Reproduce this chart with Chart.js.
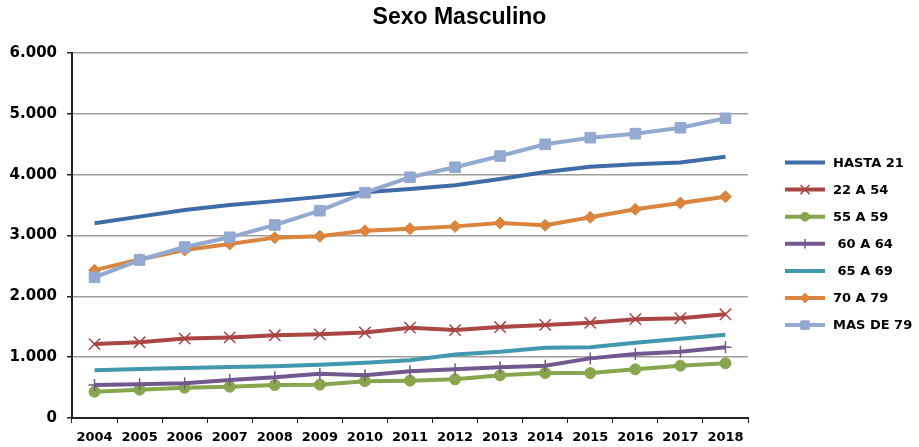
<!DOCTYPE html>
<html><head><meta charset="utf-8">
<script src="https://cdn.jsdelivr.net/npm/chart.js@4/dist/chart.umd.min.js"></script>
<style>html,body{margin:0;padding:0;background:#fff;}canvas{display:block;}</style>
</head><body>
<canvas id="c" width="919" height="447"></canvas>
<script>
const years = ['2004','2005','2006','2007','2008','2009','2010','2011','2012','2013','2014','2015','2016','2017','2018'];
const yTickLabels = ['0','1.000','2.000','3.000','4.000','5.000','6.000'];
const seriesNames = ['HASTA 21','22 A 54','55 A 59',' 60 A 64',' 65 A 69','70 A 79','MAS DE 79'];
const hasta21  = [3200,3310,3420,3500,3565,3635,3710,3765,3825,3930,4045,4130,4170,4200,4295];
const a22a54   = [1215,1245,1305,1325,1360,1375,1405,1485,1445,1495,1530,1565,1625,1640,1705];
const a55a59   = [432,465,498,515,542,548,605,614,636,702,738,738,800,860,899];
const a60a64   = [542,555,570,625,668,728,703,768,800,833,860,980,1052,1090,1162];
const a65a69   = [784,806,822,838,850,876,909,948,1042,1090,1156,1162,1238,1304,1370];
const a70a79   = [2430,2605,2762,2861,2965,2988,3079,3112,3150,3205,3167,3299,3431,3535,3638];
const mas79    = [2313,2597,2810,2970,3173,3408,3704,3957,4121,4307,4499,4608,4674,4772,4927];

const colors = ['#3D6CA6','#AA4643','#89A54E','#71588F','#4198AF','#DB843D','#93A9CF'];
const styles = [
  {ps:'circle', r:0},
  {ps:'crossRot', r:8, bw:1.5},
  {ps:'circle', r:5.5},
  {ps:'cross', r:6, bw:1.5},
  {ps:'circle', r:0},
  {ps:'rectRot', r:6},
  {ps:'rect', r:7.5}
];
const values = [hasta21,a22a54,a55a59,a60a64,a65a69,a70a79,mas79];

const datasets = values.map((v,i)=>({
  label: seriesNames[i],
  data: v,
  borderColor: colors[i],
  backgroundColor: colors[i],
  borderWidth: 4,
  pointStyle: styles[i].ps,
  pointRadius: styles[i].r,
  pointBorderWidth: styles[i].bw || 1,
  pointBorderColor: colors[i],
  pointBackgroundColor: colors[i],
  tension: 0,
  order: 6 - i
}));

const legendPlugin = {
  id: 'customLegend',
  afterDraw(chart) {
    const ctx = chart.ctx;
    const x0 = 785, x1 = 825, tx = 833, y0 = 162.5, dy = 27.1;
    ctx.save();
    chart.data.datasets.forEach((ds, i) => {
      const y = y0 + i * dy;
      ctx.strokeStyle = ds.borderColor;
      ctx.lineWidth = 4;
      ctx.lineCap = 'butt';
      ctx.beginPath(); ctx.moveTo(x0, y); ctx.lineTo(x1, y); ctx.stroke();
      if (ds.pointRadius > 0) {
        ctx.lineWidth = ds.pointBorderWidth;
        ctx.fillStyle = ds.backgroundColor;
        ctx.strokeStyle = ds.borderColor;
        Chart.helpers.drawPoint(ctx, {pointStyle: ds.pointStyle, rotation: 0, radius: ds.pointRadius * 0.8, borderWidth: ds.pointBorderWidth}, (x0 + x1) / 2, y);
      }
      ctx.fillStyle = '#000';
      ctx.font = 'bold 13px "DejaVu Sans"';
      ctx.textBaseline = 'middle';
      ctx.textAlign = 'left';
      ctx.fillText(ds.label, tx, y + 1);
    });
    ctx.restore();
  }
};

new Chart(document.getElementById('c'), {
  type: 'line',
  data: { labels: years, datasets },
  plugins: [legendPlugin],
  options: {
    responsive: false,
    animation: false,
    devicePixelRatio: 1,
    layout: { padding: 0 },
    plugins: {
      legend: { display: false },
      tooltip: { enabled: false },
      title: {
        display: true,
        text: 'Sexo Masculino',
        color: '#000',
        font: { family: '"Liberation Sans", Arial, sans-serif', size: 23, weight: 'bold' },
        padding: { top: 4, bottom: 21.4 }
      }
    },
    scales: {
      x: {
        offset: true,
        grid: { display: true, drawOnChartArea: false, drawTicks: true, tickLength: 5, tickColor: '#222', offset: true },
        border: { display: true, color: '#222', width: 2 },
        ticks: { color: '#000', padding: 7, maxRotation: 0, autoSkip: false,
          font: { family: '"DejaVu Sans"', size: 13, weight: 'bold' } },
        afterFit(scale) { scale.height = 29; }
      },
      y: {
        min: 0, max: 6000,
        grid: { color: '#9E9E9E', lineWidth: 1.5, drawTicks: true, tickLength: 5, tickColor: '#222' },
        border: { display: true, color: '#222', width: 2 },
        ticks: { stepSize: 1000, color: '#000', padding: 10,
          font: { family: '"DejaVu Sans"', size: 15, weight: 'bold' },
          callback: (v, i) => yTickLabels[i] },
        afterFit(scale) { scale.width = 72; }
      },
      legendSpace: {
        type: 'linear',
        position: 'right',
        display: true,
        grid: { display: false, drawTicks: false },
        border: { display: false },
        ticks: { display: false },
        afterFit(scale) { scale.width = 171; }
      }
    }
  }
});
</script>
</body></html>
